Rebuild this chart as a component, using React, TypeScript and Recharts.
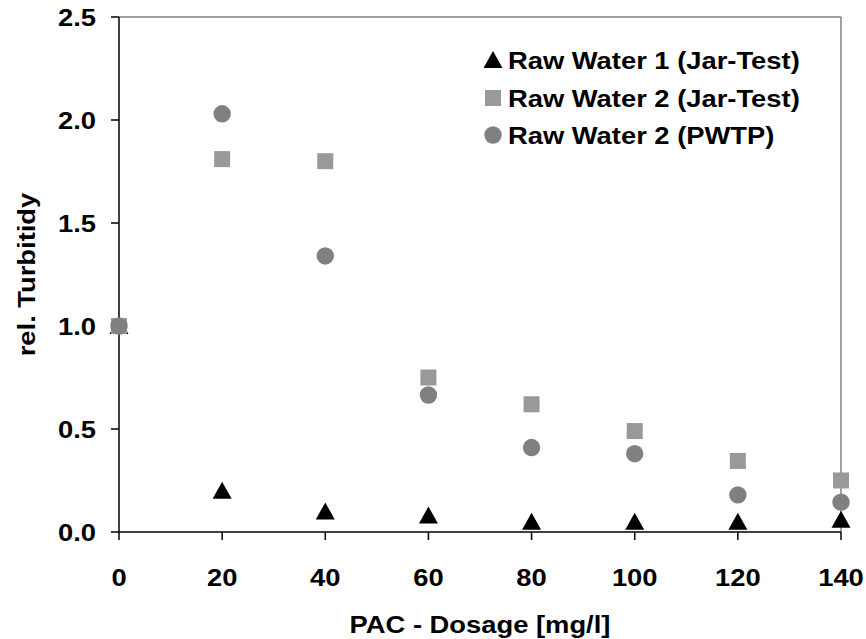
import React from 'react';
import { ScatterChart, Scatter, XAxis, YAxis, ReferenceLine } from 'recharts';

const dosage = [0, 20, 40, 60, 80, 100, 120, 140];
const rawWater1Jar = [1.0, 0.2, 0.1, 0.08, 0.05, 0.05, 0.05, 0.06];
const rawWater2Jar = [1.0, 1.81, 1.8, 0.75, 0.62, 0.49, 0.345, 0.25];
const rawWater2Pwtp = [1.0, 2.03, 1.34, 0.665, 0.41, 0.38, 0.18, 0.145];

const xTicks = [0, 20, 40, 60, 80, 100, 120, 140];
const yTicks = [0, 0.5, 1.0, 1.5, 2.0, 2.5];

const FONT = "'Liberation Sans', Arial, sans-serif";
const FS = 24;
const SX = 1.14; // text in the original is a bit stretched sideways

const toPoints = (vals: number[]) => dosage.map((x, i) => ({ x, y: vals[i] }));

const series = [
  { name: 'Raw Water 1 (Jar-Test)', data: toPoints(rawWater1Jar), color: '#000000', kind: 'triangle' },
  { name: 'Raw Water 2 (Jar-Test)', data: toPoints(rawWater2Jar), color: '#999999', kind: 'square' },
  { name: 'Raw Water 2 (PWTP)', data: toPoints(rawWater2Pwtp), color: '#808080', kind: 'circle' },
];

function Marker({ kind, color, cx, cy }: { kind: string; color: string; cx: number; cy: number }) {
  if (kind === 'triangle') {
    return <path d={`M${cx},${cy - 9}L${cx + 9.5},${cy + 8}L${cx - 9.5},${cy + 8}Z`} fill={color} />;
  }
  if (kind === 'square') {
    return <rect x={cx - 8} y={cy - 8} width={16} height={16} fill={color} />;
  }
  return <circle cx={cx} cy={cy} r={8.7} fill={color} />;
}

function BoldText({ x, y, angle = 0, anchor, children }: any) {
  return (
    <text
      transform={`translate(${x},${y}) rotate(${angle}) scale(${SX},1)`}
      textAnchor={anchor}
      fontFamily={FONT}
      fontWeight='bold'
      fontSize={FS}
      fill='#000'
    >
      {children}
    </text>
  );
}

const XTick = (props: any) => {
  const { x, y, payload } = props;
  return (
    <BoldText x={x} y={y + 44} anchor='middle'>
      {payload.value}
    </BoldText>
  );
};

const YTick = (props: any) => {
  const { x, y, payload } = props;
  return (
    <BoldText x={x - 13} y={y + 9} anchor='end'>
      {Number(payload.value).toFixed(1)}
    </BoldText>
  );
};

const XLabel = (props: any) => {
  const vb = props.viewBox || {};
  return (
    <BoldText x={vb.x + vb.width / 2} y={633} anchor='middle'>
      PAC - Dosage [mg/l]
    </BoldText>
  );
};

const YLabel = (props: any) => {
  const vb = props.viewBox || {};
  return (
    <BoldText x={35} y={vb.y + vb.height / 2} angle={-90} anchor='middle'>
      rel. Turbitidy
    </BoldText>
  );
};

function LegendOverlay() {
  const rowY = [60, 98, 135];
  return (
    <svg width={866} height={639} style={{ position: 'absolute', left: 0, top: 0, pointerEvents: 'none' }}>
      {series.map((s, i) => (
        <g key={s.name}>
          <Marker kind={s.kind} color={s.color} cx={493} cy={rowY[i]} />
          <BoldText x={508} y={rowY[i] + 8.5} anchor='start'>
            {s.name}
          </BoldText>
        </g>
      ))}
    </svg>
  );
}

export default function App() {
  return (
    <div style={{ position: 'absolute', left: 0, top: 0, width: 866, height: 639, background: '#fff' }}>
      <ScatterChart width={866} height={639} margin={{ top: 17, right: 25, bottom: 0, left: 0 }}>
        <XAxis
          type='number'
          dataKey='x'
          domain={[0, 140]}
          ticks={xTicks}
          tick={<XTick />}
          tickSize={8}
          stroke='#000'
          strokeWidth={1.5}
          height={107}
          label={<XLabel />}
        />
        <YAxis
          type='number'
          dataKey='y'
          domain={[0, 2.5]}
          ticks={yTicks}
          tick={<YTick />}
          tickSize={8}
          stroke='#000'
          strokeWidth={1.5}
          width={119}
          label={<YLabel />}
        />
        <ReferenceLine y={2.5} stroke='#808080' strokeWidth={1.5} />
        <ReferenceLine x={140} stroke='#808080' strokeWidth={1.5} />
        {series.map((s) => (
          <Scatter
            key={s.name}
            name={s.name}
            data={s.data}
            fill={s.color}
            isAnimationActive={false}
            shape={(p: any) => <Marker kind={s.kind} color={s.color} cx={p.cx} cy={p.cy} />}
          />
        ))}
      </ScatterChart>
      <LegendOverlay />
    </div>
  );
}
